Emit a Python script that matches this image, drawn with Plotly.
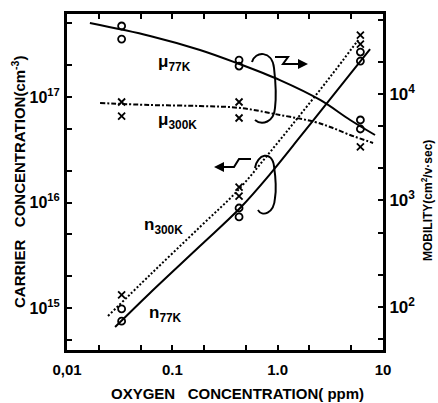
import plotly.graph_objects as go

# ---------------- data ----------------
# mobility, 77 K (open circles, solid line) - right axis
mu77_pts_x = [0.033, 0.033, 0.43, 0.43, 6.1, 6.1]
mu77_pts_y = [43500, 32800, 20800, 18300, 5700, 4690]
mu77_line_x = [0.0165, 0.0614, 0.183, 0.41, 1.05, 2.53, 4.88, 8.4]
mu77_line_y = [46400, 35100, 25900, 19500, 13500, 8790, 5700, 4120]

# mobility, 300 K (x marks, dashed line) - right axis
mu300_pts_x = [0.033, 0.033, 0.43, 0.43, 6.1]
mu300_pts_y = [8410, 6200, 8410, 5950, 3180]
mu300_line_x = [0.0206, 0.0614, 0.183, 0.44, 1.05, 2.26, 3.15, 4.87, 8.05]
mu300_line_y = [8230, 7880, 7710, 7390, 6350, 5460, 4900, 4120, 3470]

# carrier concentration, 300 K (x marks, dotted line) - left axis
n300_pts_x = [0.033, 0.43, 0.43, 6.1, 6.1]
n300_pts_y = [1.33e15, 1.40e16, 1.15e16, 3.87e17, 3.18e17]
n300_line_x = [0.0245, 0.0614, 0.183, 0.421, 0.847, 1.63, 3.15, 5.81]
n300_line_y = [8.4e14, 2.06e15, 5.87e15, 1.31e16, 3.01e16, 6.75e16, 1.55e17, 3.47e17]

# carrier concentration, 77 K (open circles, solid line) - left axis
n77_pts_x = [0.033, 0.033, 0.43, 0.43, 6.1, 6.1]
n77_pts_y = [9.8e14, 7.5e14, 8.87e15, 7.3e15, 2.67e17, 2.19e17]
n77_line_x = [0.0286, 0.0614, 0.183, 0.44, 0.847, 1.63, 3.15, 4.87, 7.54]
n77_line_y = [6.6e14, 1.39e15, 3.87e15, 8.87e15, 1.86e16, 4.18e16, 9.57e16, 1.65e17, 2.85e17]

# ticks
x_tickvals = [0.01, 0.02, 0.05, 0.1, 0.2, 0.5, 1, 2, 5, 10]
x_ticktext = ["0,01", "", "", "0.1", "", "", "1.0", "", "", "10"]
yl_major = [1e15, 1e16, 1e17]
yl_major_text = ["10<sup>15</sup>", "10<sup>16</sup>", "10<sup>17</sup>"]
yl_minor = [5e14, 2e15, 5e15, 2e16, 5e16, 2e17, 5e17]
yr_major = [1e2, 1e3, 1e4]
yr_major_text = ["10<sup>2</sup>", "10<sup>3</sup>", "10<sup>4</sup>"]
yr_minor = [5e1, 2e2, 5e2, 2e3, 5e3, 2e4, 5e4]

FONT = "Liberation Sans, Arial, sans-serif"
W, H = 438, 403
PL, PR, PT, PB = 67, 383, 14, 350


def px(x):
    return (x - PL) / (PR - PL)


def py(y):
    return (PB - y) / (PB - PT)


def path(points):
    s = "M %.4f,%.4f" % (px(points[0][0]), py(points[0][1]))
    for p in points[1:]:
        s += " L %.4f,%.4f" % (px(p[0]), py(p[1]))
    return s


def cpath(start, curves):
    s = "M %.4f,%.4f" % (px(start[0]), py(start[1]))
    for c in curves:
        s += " C " + " ".join("%.4f,%.4f" % (px(a), py(b)) for a, b in c)
    return s


fig = go.Figure()
blk = "black"

fig.add_trace(go.Scatter(x=mu77_line_x, y=mu77_line_y, mode="lines", yaxis="y2",
                         line=dict(color=blk, width=2, shape="spline"), showlegend=False))
fig.add_trace(go.Scatter(x=mu300_line_x, y=mu300_line_y, mode="lines", yaxis="y2",
                         line=dict(color=blk, width=2, shape="spline", dash="5px,2px,2px,2px"),
                         showlegend=False))
fig.add_trace(go.Scatter(x=n300_line_x, y=n300_line_y, mode="lines",
                         line=dict(color=blk, width=2, shape="spline", dash="2px,2px"),
                         showlegend=False))
fig.add_trace(go.Scatter(x=n77_line_x, y=n77_line_y, mode="lines",
                         line=dict(color=blk, width=2, shape="spline"), showlegend=False))

circ = dict(symbol="circle-open", size=7, color=blk, line=dict(width=1.8, color=blk))
xm = dict(symbol="x-thin-open", size=7, color=blk, line=dict(width=1.8, color=blk))
fig.add_trace(go.Scatter(x=mu77_pts_x, y=mu77_pts_y, mode="markers", yaxis="y2",
                         marker=circ, showlegend=False))
fig.add_trace(go.Scatter(x=mu300_pts_x, y=mu300_pts_y, mode="markers", yaxis="y2",
                         marker=xm, showlegend=False))
fig.add_trace(go.Scatter(x=n300_pts_x, y=n300_pts_y, mode="markers",
                         marker=xm, showlegend=False))
fig.add_trace(go.Scatter(x=n77_pts_x, y=n77_pts_y, mode="markers",
                         marker=circ, showlegend=False))

xtickfont = dict(family=FONT, size=15, color=blk, weight="bold")
yltickfont = dict(family=FONT, size=16, color=blk, weight="bold")
yrtickfont = dict(family=FONT, size=17, color=blk, weight="bold")
fig.update_layout(
    width=W, height=H,
    margin=dict(l=PL, r=W - PR, t=PT, b=H - PB),
    paper_bgcolor="white", plot_bgcolor="white",
    xaxis=dict(type="log", range=[-2, 1], tickmode="array",
               tickvals=x_tickvals, ticktext=x_ticktext,
               ticks="inside", ticklen=5, tickwidth=2, tickcolor=blk,
               showline=True, linecolor=blk, linewidth=3, mirror="ticks",
               ticklabelstandoff=4,
               showgrid=False, zeroline=False, tickfont=xtickfont),
    yaxis=dict(type="log", range=[14.602, 17.787], tickmode="array",
               tickvals=yl_major + yl_minor, ticktext=yl_major_text + [""] * len(yl_minor),
               ticks="inside", ticklen=5, tickwidth=2, tickcolor=blk,
               showline=True, linecolor=blk, linewidth=3, ticklabelstandoff=1,
               showgrid=False, zeroline=False, tickfont=yltickfont),
    yaxis2=dict(type="log", range=[1.596, 4.751], overlaying="y", side="right",
                tickmode="array",
                tickvals=yr_major + yr_minor, ticktext=yr_major_text + [""] * len(yr_minor),
                ticks="inside", ticklen=5, tickwidth=2, tickcolor=blk,
                showline=True, linecolor=blk, linewidth=3,
                showgrid=False, zeroline=False, tickfont=yrtickfont),
)

# decorations: loops and lightning arrows
shapes = []
shapes.append(dict(type="path", xref="paper", yref="paper",
                   path=cpath((252, 62), [((255, 51), (272, 50), (274, 68)),
                                          ((276, 85), (276, 100), (275, 108)),
                                          ((274, 122), (262, 126), (255, 120))]),
                   line=dict(color=blk, width=2)))
shapes.append(dict(type="path", xref="paper", yref="paper",
                   path=path([(275, 57), (288, 57), (283, 64), (300, 64)]),
                   line=dict(color=blk, width=2)))
shapes.append(dict(type="path", xref="paper", yref="paper",
                   path=cpath((255, 168), [((257, 154), (272, 150), (274, 166)),
                                           ((276, 180), (276, 192), (275, 198)),
                                           ((274, 214), (262, 217), (258, 210))]),
                   line=dict(color=blk, width=2)))
shapes.append(dict(type="path", xref="paper", yref="paper",
                   path=path([(251, 159), (239, 159), (234, 167), (222, 167)]),
                   line=dict(color=blk, width=2)))
fig.update_layout(shapes=shapes)

ann = []
# arrow heads
ann.append(dict(xref="paper", yref="paper", x=px(308), y=py(64), ax=-12, ay=0,
                showarrow=True, arrowhead=2, arrowsize=1, arrowwidth=2, arrowcolor=blk, text=""))
ann.append(dict(xref="paper", yref="paper", x=px(214), y=py(167), ax=12, ay=0,
                showarrow=True, arrowhead=2, arrowsize=1, arrowwidth=2, arrowcolor=blk, text=""))

lf = dict(family=FONT, size=17, color=blk, weight="bold")
ann.append(dict(xref="paper", yref="paper", x=px(156), y=py(63), xanchor="left", yanchor="middle",
                text="μ<sub>77K</sub>", showarrow=False, font=lf))
ann.append(dict(xref="paper", yref="paper", x=px(156), y=py(121), xanchor="left", yanchor="middle",
                text="μ<sub>300K</sub>", showarrow=False, font=lf))
ann.append(dict(xref="paper", yref="paper", x=px(142), y=py(226), xanchor="left", yanchor="middle",
                text="n<sub>300K</sub>", showarrow=False, font=lf))
ann.append(dict(xref="paper", yref="paper", x=px(147), y=py(314), xanchor="left", yanchor="middle",
                text="n<sub>77K</sub>", showarrow=False, font=lf))

tf = dict(family=FONT, size=15, color=blk, weight="bold")
ann.append(dict(xref="paper", yref="paper", x=px(237), y=py(393), xanchor="center", yanchor="middle",
                text="OXYGEN   CONCENTRATION( ppm)", showarrow=False, font=tf))
ann.append(dict(xref="paper", yref="paper", x=px(18), y=py(182), xanchor="center", yanchor="middle",
                textangle=-90, text="CARRIER   CONCENTRATION(cm<sup>-3</sup>)",
                showarrow=False, font=dict(family=FONT, size=15, color=blk, weight="bold")))
ann.append(dict(xref="paper", yref="paper", x=px(427), y=py(201), xanchor="center", yanchor="middle",
                textangle=-90, text="MOBILITY(cm<sup>2</sup>/v·sec)",
                showarrow=False, font=dict(family=FONT, size=12, color=blk, weight="bold")))
fig.update_layout(annotations=ann)

fig.write_html("out.html", config={"displayModeBar": False},
               post_script="document.body.style.margin='0';document.body.style.overflow='hidden';")
